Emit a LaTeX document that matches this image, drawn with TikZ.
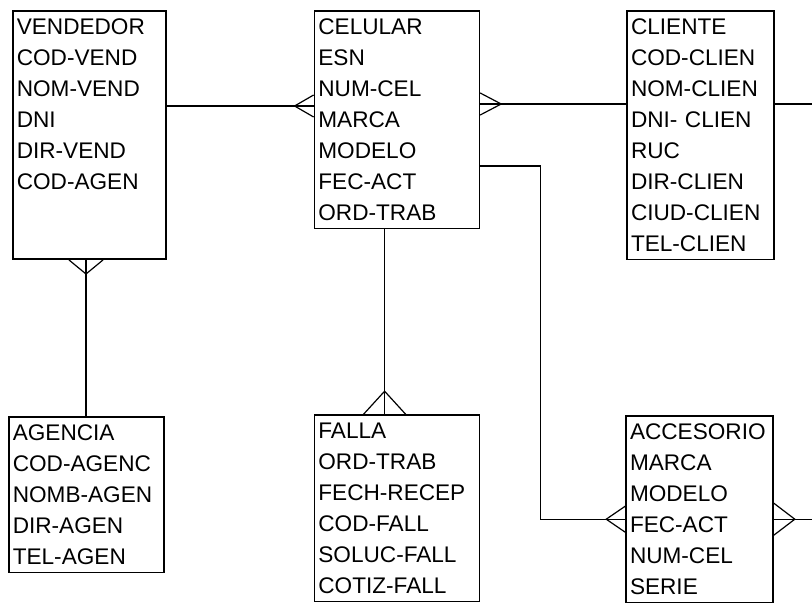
\documentclass[tikz,border=0pt]{standalone}
\usepackage{fontspec}
\setmainfont{Liberation Sans}
\usetikzlibrary{positioning,calc}
\hyphenpenalty=10000
\exhyphenpenalty=10000
\tikzset{
    entitybox/.style={
        draw,
        line width=0.8pt,
        align=left,
        font=\fontsize{11.3}{15.5}\selectfont,
        inner xsep=2pt,
        inner ysep=3.9pt,
        text width=#1
    },
    relline/.style={
        line width=0.6pt
    },
    crowfoot/.style={
        line width=0.6pt
    }
}

\begin{document}
\begin{tikzpicture}
    \useasboundingbox[fill=white] (0,0) rectangle (406pt,-302pt);

    \node[entitybox=72.5pt, anchor=north west] (vend) at (6pt,-5pt) {
        VENDEDOR\\
        COD-VEND\\
        NOM-VEND\\
        DNI\\
        DIR-VEND\\
        COD-AGEN\\
        \mbox{}\\
        \mbox{}
    };

    \node[entitybox=78.5pt, right=73.5pt of vend.north east, anchor=north west] (cel) {
        CELULAR\\
        ESN\\
        NUM-CEL\\
        MARCA\\
        MODELO\\
        FEC-ACT\\
        ORD-TRAB
    };

    \node[entitybox=69.5pt, right=73pt of cel.north east, anchor=north west] (cli) {
        CLIENTE\\
        COD-CLIEN\\
        NOM-CLIEN\\
        DNI- CLIEN\\
        RUC\\
        DIR-CLIEN\\
        CIUD-CLIEN\\
        TEL-CLIEN
    };

    \node[entitybox=73.5pt, below=78pt of vend.south west, anchor=north west, xshift=-2pt] (agen) {
        AGENCIA\\
        COD-AGENC\\
        NOMB-AGEN\\
        DIR-AGEN\\
        TEL-AGEN
    };

    \node[entitybox=78.5pt, below=92.5pt of cel.south west, anchor=north west] (falla) {
        FALLA\\
        ORD-TRAB\\
        FECH-RECEP\\
        COD-FALL\\
        SOLUC-FALL\\
        COTIZ-FALL
    };

    \node[entitybox=69.5pt, below=77.5pt of cli.south west, anchor=north west, xshift=-0.5pt] (acc) {
        ACCESORIO\\
        MARCA\\
        MODELO\\
        FEC-ACT\\
        NUM-CEL\\
        SERIE
    };

    % free ends leaving the page on the right
    \coordinate (cliout) at ($(cli.north east)+(25pt,-47pt)$);
    \coordinate (accout) at ($(acc.north east)+(25pt,-52pt)$);

    % vendedor - celular
    \draw[relline] ([yshift=-48pt]vend.north east) -- ([yshift=-48pt]cel.north west);
    \draw[crowfoot] ([yshift=-42.5pt]cel.north west) -- ([xshift=-9.5pt,yshift=-48pt]cel.north west) -- ([yshift=-53.5pt]cel.north west);

    % celular - cliente
    \draw[relline] ([yshift=-47pt]cel.north east) -- ([yshift=-47pt]cli.north west);
    \draw[crowfoot] ([yshift=-41.5pt]cel.north east) -- ([xshift=10.5pt,yshift=-47pt]cel.north east) -- ([yshift=-52.5pt]cel.north east);
    \draw[relline] ([yshift=-47pt]cli.north east) -- (cliout);

    % celular - accesorio
    \draw[relline] ([yshift=-78pt]cel.north east) -- ++(30pt,0) |- ([yshift=-52pt]acc.north west);
    \draw[crowfoot] ([yshift=-45.5pt]acc.north west) -- ([xshift=-9.5pt,yshift=-52pt]acc.north west) -- ([yshift=-58.5pt]acc.north west);
    \draw[relline] ([yshift=-52pt]acc.north east) -- (accout);
    \draw[crowfoot] ([yshift=-44pt]acc.north east) -- ([xshift=10.5pt,yshift=-52pt]acc.north east) -- ([yshift=-60pt]acc.north east);

    % vendedor - agencia
    \draw[relline] ([xshift=37pt]vend.south west) -- ([xshift=39pt]agen.north west);
    \draw[crowfoot] ([xshift=28.5pt]vend.south west) -- ([xshift=37pt,yshift=-7pt]vend.south west) -- ([xshift=45.5pt]vend.south west);

    % celular - falla
    \draw[relline] ([xshift=35.5pt]cel.south west) -- ([xshift=35.5pt]falla.north west);
    \draw[crowfoot] ([xshift=25pt]falla.north west) -- ([xshift=35.5pt,yshift=11.5pt]falla.north west) -- ([xshift=46pt]falla.north west);
\end{tikzpicture}
\end{document}
